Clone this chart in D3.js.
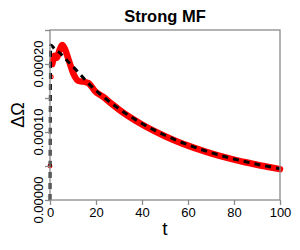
<!DOCTYPE html>
<html>
<head>
<meta charset="utf-8">
<script src="https://cdn.jsdelivr.net/npm/d3@7"></script>
<style>
  body { margin: 0; background: #fff; }
  text { font-family: "Liberation Sans", Arial, sans-serif; }
</style>
</head>
<body>
<div id="chart"></div>
<script>
// black dashed curve (reference)
const blackT = [0, 0.3, 2, 4, 8, 12, 16, 20, 25, 30, 35, 40, 45, 50, 55, 60, 65, 70, 75, 80, 85, 90, 95, 100];
const blackV = [0, 0.000228, 0.000222, 0.000217, 0.000203, 0.000189, 0.000174, 0.000161,
  0.0001468, 0.0001342, 0.0001228, 0.0001126, 0.0001034, 0.0000952, 0.0000878, 0.0000811,
  0.0000751, 0.0000697, 0.0000648, 0.0000603, 0.0000563, 0.0000526, 0.0000492, 0.0000461];

// red points (simulation)
const redT = [0, 0.6, 1, 2, 3, 4, 5.3, 6.5, 8.3, 10.4, 12.5, 14.5, 16.7, 19.6, 23, 27, 30, 35, 40,
  45, 50, 55, 60, 65, 70, 75, 80, 85, 90, 95, 100];
const redV = [0.00005, 0.000181, 0.000200, 0.000212, 0.000209, 0.000219, 0.000228, 0.000222,
  0.000204, 0.000184, 0.000175, 0.000174, 0.000172, 0.000160, 0.000152, 0.000141, 0.000133,
  0.0001212, 0.0001110, 0.0001019, 0.0000938, 0.0000865, 0.0000799, 0.0000740, 0.0000687,
  0.0000638, 0.0000594, 0.0000555, 0.0000518, 0.0000485, 0.0000454];

const xTicks = [0, 20, 40, 60, 80, 100];
const yTicks = [0, 0.00005, 0.0001, 0.00015, 0.0002, 0.00025];
const yLabels = [0, 0.0001, 0.0002];

const width = 300, height = 250;
const margin = { top: 30, right: 20, bottom: 50, left: 50 };

const svg = d3.select('#chart').append('svg')
  .attr('width', width)
  .attr('height', height);

const x = d3.scaleLinear().domain([0, 100]).range([margin.left, width - margin.right]);
const y = d3.scaleLinear().domain([0, 0.00025]).range([height - margin.bottom, margin.top]);

const red = redT.map((t, i) => ({ t, v: redV[i] }));
const black = blackT.map((t, i) => ({ t, v: blackV[i] }));

const line = d3.line().x(d => x(d.t)).y(d => y(d.v)).curve(d3.curveMonotoneX);

// first two red samples drawn as lone points
svg.selectAll('.red-pt')
  .data(red.slice(0, 2))
  .enter()
  .append('circle')
  .attr('class', 'red-pt')
  .attr('cx', d => x(d.t))
  .attr('cy', d => y(d.v))
  .attr('r', 1.8)
  .attr('fill', 'none')
  .attr('stroke', '#ff0000')
  .attr('stroke-width', 1.2);

svg.append('path')
  .datum(red.slice(2))
  .attr('d', line)
  .attr('fill', 'none')
  .attr('stroke', '#ff0000')
  .attr('stroke-width', 6.5)
  .attr('stroke-linejoin', 'round')
  .attr('stroke-linecap', 'round');

svg.append('path')
  .datum(black)
  .attr('d', line)
  .attr('fill', 'none')
  .attr('stroke', '#000')
  .attr('stroke-width', 3)
  .attr('stroke-dasharray', '6,5');

// box
const axisColor = '#8a8a8a';
svg.append('rect')
  .attr('x', x(0))
  .attr('y', y(0.00025))
  .attr('width', x(100) - x(0))
  .attr('height', y(0) - y(0.00025))
  .attr('fill', 'none')
  .attr('stroke', axisColor)
  .attr('stroke-width', 1.3);

// x axis
const xAxis = svg.append('g')
  .attr('transform', `translate(0,${y(0)})`)
  .call(d3.axisBottom(x).tickValues(xTicks).tickSize(5).tickSizeOuter(0).tickFormat(d3.format('d')));
xAxis.select('.domain').remove();
xAxis.selectAll('line').attr('stroke', axisColor).attr('stroke-width', 1.3);
xAxis.selectAll('text')
  .attr('fill', '#000')
  .style('font-size', '13px')
  .attr('y', 8);

// y axis
const yAxis = svg.append('g')
  .attr('transform', `translate(${x(0)},0)`)
  .call(d3.axisLeft(y).tickValues(yTicks).tickSize(5).tickSizeOuter(0).tickFormat(() => ''));
yAxis.select('.domain').remove();
yAxis.selectAll('line').attr('stroke', axisColor).attr('stroke-width', 1.3);

svg.selectAll('.y-label')
  .data(yLabels)
  .enter()
  .append('text')
  .attr('class', 'y-label')
  .attr('transform', d => `translate(43,${y(d)}) rotate(-90)`)
  .attr('text-anchor', 'middle')
  .style('font-size', '13px')
  .text(d => d3.format('.5f')(d));

// titles
svg.append('text')
  .attr('x', 165)
  .attr('y', 22)
  .attr('text-anchor', 'middle')
  .style('font-size', '16.5px')
  .style('font-weight', 'bold')
  .text('Strong MF');

svg.append('text')
  .attr('x', 165)
  .attr('y', 235)
  .attr('text-anchor', 'middle')
  .style('font-size', '19px')
  .text('t');

svg.append('text')
  .attr('transform', `translate(24,${(y(0) + y(0.00025)) / 2}) rotate(-90)`)
  .attr('text-anchor', 'middle')
  .style('font-size', '18px')
  .text('ΔΩ');
</script>
</body>
</html>
